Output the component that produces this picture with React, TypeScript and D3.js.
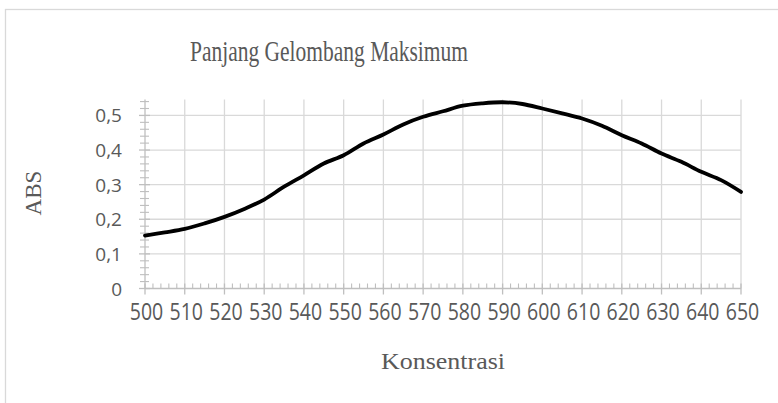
import React from "react";
import * as d3 from "d3";

const wavelengths = [500, 505, 510, 515, 520, 525, 530, 535, 540, 545, 550, 555, 560, 565, 570, 575, 580, 585, 590, 595, 600, 605, 610, 615, 620, 625, 630, 635, 640, 645, 650];
const absValues = [0.153, 0.162, 0.172, 0.188, 0.207, 0.23, 0.257, 0.294, 0.327, 0.361, 0.385, 0.419, 0.445, 0.474, 0.496, 0.512, 0.528, 0.535, 0.538, 0.533, 0.52, 0.506, 0.491, 0.47, 0.443, 0.419, 0.39, 0.366, 0.337, 0.313, 0.279];
const xTicks = [500, 510, 520, 530, 540, 550, 560, 570, 580, 590, 600, 610, 620, 630, 640, 650];
const yTicks = [0, 0.1, 0.2, 0.3, 0.4, 0.5];
const yTickLabels = ["0", "0,1", "0,2", "0,3", "0,4", "0,5"];
const titleText = "Panjang Gelombang Maksimum";
const xTitle = "Konsentrasi";
const yTitle = "ABS";

export default function App() {
  const W = 778, H = 403;
  const left = 145, right = 741, top = 99.5, bottom = 288.5;
  const x = d3.scaleLinear().domain([500, 650]).range([left, right]);
  const y = d3.scaleLinear().domain([0, 0.546]).range([bottom, top]);

  const line = d3.line<number>()
    .x((_, i) => x(wavelengths[i]))
    .y((d) => y(d))
    .curve(d3.curveCatmullRom.alpha(0.5));

  const minorX = d3.range(500, 650.001, 2).filter((v) => v % 10 !== 0);
  const minorY = d3.range(0, 0.545, 0.02).filter((v) => Math.abs(v * 10 - Math.round(v * 10)) > 1e-6);

  const grid = "#d9d9d9";
  const axisC = "#bfbfbf";
  const textC = "#595959";

  return (
    <svg width={W} height={H} style={{ position: "absolute", left: 0, top: 0, background: "#fff" }}>
      <rect x={5.5} y={9.5} width={W + 10} height={H + 10} fill="#fff" stroke={grid} strokeWidth={1.3} />
      <text
        x={329}
        y={61}
        textAnchor="middle"
        fontFamily="'Liberation Serif', 'Times New Roman', serif"
        fontSize={30}
        fill={textC}
        textLength={278}
        lengthAdjust="spacingAndGlyphs"
      >
        {titleText}
      </text>
      {xTicks.slice(1).map((t) => (
        <line key={"gx" + t} x1={x(t)} x2={x(t)} y1={top} y2={bottom} stroke={grid} strokeWidth={1.3} />
      ))}
      {yTicks.slice(1).map((t) => (
        <line key={"gy" + t} x1={left} x2={right} y1={y(t)} y2={y(t)} stroke={grid} strokeWidth={1.3} />
      ))}
      <line x1={left} x2={right} y1={bottom} y2={bottom} stroke={axisC} strokeWidth={1.3} />
      <line x1={left} x2={left} y1={top} y2={bottom} stroke={axisC} strokeWidth={1.3} />
      {xTicks.map((t) => (
        <line key={"tx" + t} x1={x(t)} x2={x(t)} y1={bottom - 5} y2={bottom + 6} stroke={axisC} strokeWidth={1.3} />
      ))}
      {minorX.map((t) => (
        <line key={"mx" + t} x1={x(t)} x2={x(t)} y1={bottom - 5} y2={bottom} stroke={axisC} strokeWidth={1.1} />
      ))}
      {yTicks.map((t) => (
        <line key={"ty" + t} x1={left - 6} x2={left + 5} y1={y(t)} y2={y(t)} stroke={axisC} strokeWidth={1.3} />
      ))}
      {minorY.map((t) => (
        <line key={"my" + t} x1={left - 5} x2={left + 4} y1={y(t)} y2={y(t)} stroke={axisC} strokeWidth={1.1} />
      ))}
      {xTicks.map((t) => (
        <text
          key={"lx" + t}
          transform={`translate(${x(t) + 1.5},320) scale(1,1.25)`}
          textAnchor="middle"
          fontFamily="'Open Sans', sans-serif"
          fontSize={19.5}
          fill={textC}
        >
          {t}
        </text>
      ))}
      {yTicks.map((t, i) => (
        <text
          key={"ly" + t}
          x={122}
          y={y(t) + 7}
          textAnchor="end"
          fontFamily="'Open Sans', sans-serif"
          fontSize={19}
          fill={textC}
        >
          {yTickLabels[i]}
        </text>
      ))}
      <text
        transform={`translate(41,193) rotate(-90)`}
        textAnchor="middle"
        fontFamily="'Liberation Serif', 'Times New Roman', serif"
        fontSize={23}
        fill={textC}
      >
        {yTitle}
      </text>
      <text
        x={443}
        y={369}
        textAnchor="middle"
        fontFamily="'Liberation Serif', 'Times New Roman', serif"
        fontSize={23}
        fill={textC}
        textLength={124}
        lengthAdjust="spacingAndGlyphs"
      >
        {xTitle}
      </text>
      <path d={line(absValues) || ""} fill="none" stroke="#000" strokeWidth={3.8} strokeLinejoin="round" strokeLinecap="round" />
    </svg>
  );
}
